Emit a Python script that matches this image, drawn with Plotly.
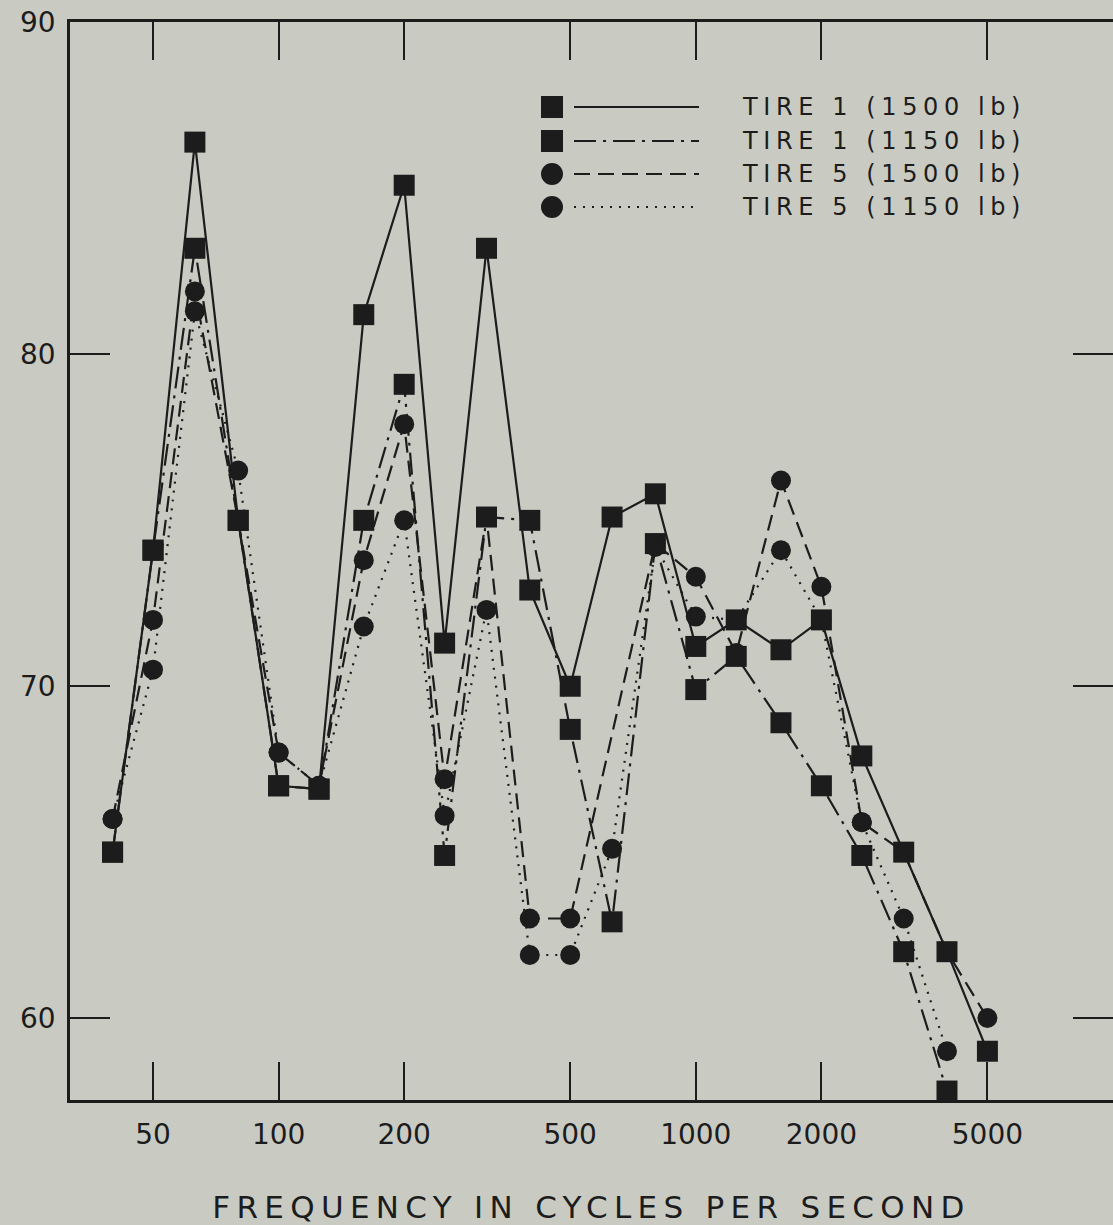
import plotly.graph_objects as go

# ---- data ----
freq = [40, 50, 63, 80, 100, 125, 160, 200, 250, 315, 400, 500, 630, 800,
        1000, 1250, 1600, 2000, 2500, 3150, 4000, 5000]
tire1_1500 = [65.0, 74.1, 86.4, 75.0, 67.0, 66.9, 81.2, 85.1, 71.3, 83.2, 72.9, 70.0,
              75.1, 75.8, 71.2, 72.0, 71.1, 72.0, 67.9, 65.0, 62.0, 59.0]
tire1_1150 = [65.0, 74.1, 83.2, 75.0, 67.0, 66.9, 75.0, 79.1, 64.9, 75.1, 75.0, 68.7,
              62.9, 74.3, 69.9, 70.9, 68.9, 67.0, 64.9, 62.0, 57.8, None]
tire5_1500 = [66.0, 72.0, 81.9, 75.0, 68.0, 67.0, 73.8, 77.9, 67.2, 75.1, 63.0, 63.0,
              None, 74.3, 73.3, 71.0, 76.2, 73.0, 65.9, 65.0, 62.0, 60.0]
tire5_1150 = [66.0, 70.5, 81.3, 76.5, 68.0, 67.0, 71.8, 75.0, 66.1, 72.3, 61.9, 61.9,
              65.1, 74.2, 72.1, 72.0, 74.1, 72.0, 65.9, 63.0, 59.0, None]
names = ["TIRE 1 (1500 lb)", "TIRE 1 (1150 lb)", "TIRE 5 (1500 lb)", "TIRE 5 (1150 lb)"]
x_tickvals = [50, 100, 200, 500, 1000, 2000, 5000]
y_tickvals = [60, 70, 80, 90]
x_title = "FREQUENCY IN CYCLES PER SECOND"

# ---- styling ----
INK = "#1c1c1c"
BG = "#c9cbc3"
FONT = "DejaVu Sans"
W, H = 1113, 1225
ML, MR, MT, MB = 70, 0, 22, 125
PW, PH = W - ML - MR, H - MT - MB

series = [
    (tire1_1500, "square", "solid"),
    (tire1_1150, "square", "22px,7px,3px,7px"),
    (tire5_1500, "circle", "16px,8px"),
    (tire5_1150, "circle", "2px,7px"),
]

fig = go.Figure()
for (vals, sym, dash), name in zip(series, names):
    fig.add_trace(go.Scatter(
        x=freq, y=vals, name=name, mode="lines+markers", connectgaps=True,
        line=dict(color=INK, width=2.2, dash=dash),
        marker=dict(symbol=sym, size=21 if sym == "square" else 20, color=INK),
        showlegend=False,
    ))

# ---- custom legend (marker, long line sample, spaced text) ----
def px_x(px):
    return (px - ML) / PW

def px_y(py):
    return (H - MB - py) / PH

legend_rows = [107, 141, 174, 207]
shapes = []
annotations = []
for (vals, sym, dash), name, ry in zip(series, names, legend_rows):
    yy = px_y(ry)
    shapes.append(dict(
        type="rect" if sym == "square" else "circle", xref="paper", yref="paper",
        xsizemode="pixel", ysizemode="pixel", xanchor=px_x(552), yanchor=yy,
        x0=-11, x1=11, y0=-11, y1=11, fillcolor=INK, line=dict(width=0)))
    shapes.append(dict(
        type="line", xref="paper", yref="paper", x0=px_x(574), x1=px_x(699), y0=yy, y1=yy,
        line=dict(color=INK, width=2.2, dash=dash)))
    annotations.append(dict(
        xref="paper", yref="paper", x=px_x(740), y=yy, xanchor="left", yanchor="middle",
        showarrow=False, text=f'<span style="letter-spacing:5.6px">{name}</span>',
        font=dict(family=FONT, size=24, color=INK)))

fig.update_layout(
    width=W, height=H,
    margin=dict(l=ML, r=MR, t=MT, b=MB, pad=0),
    paper_bgcolor=BG, plot_bgcolor=BG,
    font=dict(family=FONT, color=INK, size=28),
    shapes=shapes, annotations=annotations,
    xaxis=dict(
        type="log", range=[1.5, 4.0],
        tickvals=x_tickvals, ticktext=[str(v) for v in x_tickvals],
        ticks="inside", ticklen=38, tickwidth=2, tickcolor=INK,
        showline=True, linewidth=2.5, linecolor=INK, mirror="ticks",
        showgrid=False, zeroline=False,
        tickfont=dict(family=FONT, size=28, color=INK),
        ticklabelstandoff=8,
        title=dict(text=f'<span style="letter-spacing:6.3px">{x_title}</span>',
                   font=dict(family=FONT, size=31, color=INK), standoff=47),
    ),
    yaxis=dict(
        range=[57.53, 90.02], tickvals=y_tickvals,
        ticks="inside", ticklen=40, tickwidth=2, tickcolor=INK,
        showline=True, linewidth=2.5, linecolor=INK, mirror=False,
        showgrid=False, zeroline=False,
        tickfont=dict(family=FONT, size=28, color=INK),
        ticklabelstandoff=6,
    ),
    yaxis2=dict(
        overlaying="y", side="right", range=[57.53, 90.02], tickvals=y_tickvals[:3],
        ticks="inside", ticklen=40, tickwidth=2, tickcolor=INK,
        showline=False, showgrid=False, zeroline=False, showticklabels=False,
    ),
)
fig.add_trace(go.Scatter(x=[freq[0]], y=[None], yaxis="y2", showlegend=False,
                         hoverinfo="skip", mode="markers"))

fig.write_html(
    "out.html",
    config={"displayModeBar": False},
    post_script="document.body.style.margin='0';document.body.style.background='%s';" % BG,
)
